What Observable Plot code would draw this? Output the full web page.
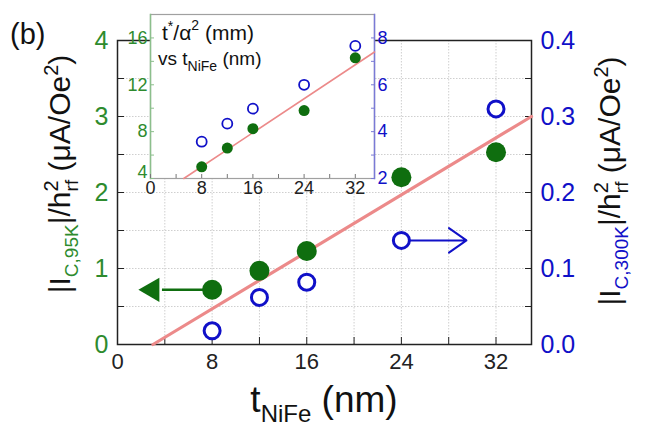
<!DOCTYPE html>
<html><head><meta charset="utf-8">
<script src="https://cdn.jsdelivr.net/npm/d3@7"></script>
<script src="https://cdn.jsdelivr.net/npm/@observablehq/plot@0.6"></script>
<style>
html,body{margin:0;padding:0;background:#fff;}
#wrap{position:relative;width:646px;height:439px;overflow:hidden;font-family:"Liberation Sans",Arial,sans-serif;}
#inset{position:absolute;left:110px;top:0px;}
</style></head>
<body><div id="wrap"><div id="main"></div><div id="inset"></div></div>
<script>
// ---- data ----
const thickness = [8, 12, 16, 24, 32];            // t_NiFe (nm)
const ic95 = [0.72, 0.97, 1.23, 2.2, 2.53];       // left axis (green)
const ic300 = [0.018, 0.062, 0.082, 0.137, 0.31]; // right axis (blue)
const fitX = [3.0, 35];
const fitY = [0, 3.0];
const xMajor = [0, 8, 16, 24, 32];
const xMinor = [4, 12, 20, 28];
const yLeftTicks = [0, 1, 2, 3, 4];
const yRightTicks = [0, 0.1, 0.2, 0.3, 0.4];
const yMinor = [0.5, 1.5, 2.5, 3.5];
const xGrid = [4, 8, 12, 16, 20, 24, 28, 32];
const yGrid = [0.5, 1, 1.5, 2, 2.5, 3, 3.5];
// arrows annotate series (start at a data point)
const arrowGreen = {from: 0, toX: 2.2};
const arrowBlue = {from: 3, toX: 29.5};

// inset data
const insetT = [8, 12, 16, 24, 32];
const insetGreen = [5.0, 6.6, 8.25, 9.8, 14.3];   // left axis t*/α² (mm)
const insetBlue = [3.57, 4.34, 4.98, 6.0, 7.66];  // right axis
const insetFitX = [5.2, 35];
const insetFitY = [4, 14.8];
const insetXTicks = [0, 8, 16, 24, 32];
const insetXMinor = [4, 12, 20, 28];
const insetLeftTicks = [8, 12, 16];
const insetLeftBottom = [4];
const insetLeftMinor = [6, 10, 14];
const insetRightTicks = [2, 4, 6, 8];
const insetRightMinor = [3, 5, 7];

const GREEN = "#0f6e0f", GTXT = "#2e8b2e", BLUE = "#1010c8", RED = "#ec8a8a";
const FONT = "Liberation Sans, Arial, sans-serif";

const leftMax = 4, rightMax = 0.4, k = leftMax / rightMax;
const rows = thickness.map((t, i) => ({t, g: ic95[i], b: ic300[i] * k}));
const fit = fitX.map((x, i) => ({x, y: fitY[i]}));

const main = Plot.plot({
  width: 646, height: 439,
  marginLeft: 117, marginRight: 115, marginTop: 40, marginBottom: 95,
  style: {fontFamily: FONT, background: "transparent"},
  x: {domain: [0, 35]},
  y: {domain: [0, leftMax]},
  marks: [
    Plot.gridX(xGrid, {stroke: "#cfcfcf", strokeOpacity: 1, strokeDasharray: "1.5,1.5"}),
    Plot.gridY(yGrid, {stroke: "#cfcfcf", strokeOpacity: 1, strokeDasharray: "1.5,1.5"}),
    Plot.frame({stroke: "#222", strokeWidth: 1.5}),
    Plot.axisX(xMajor, {tickSize: 0, tickPadding: 9, fontSize: 22, color: "#222", label: null}),
    Plot.axisX(xMajor.concat(xMinor), {tickSize: -7, tickFormat: () => "", stroke: "#222", label: null}),
    Plot.axisY(yLeftTicks, {anchor: "left", tickSize: 0, tickPadding: 9, fontSize: 25, color: GTXT, tickFormat: d => String(d), label: null}),
    Plot.axisY(yLeftTicks.concat(yMinor), {anchor: "left", tickSize: -7, tickFormat: () => "", stroke: "#222", label: null}),
    Plot.axisY(yRightTicks.map(v => v * k), {anchor: "right", tickSize: 0, tickPadding: 9, fontSize: 25, color: BLUE, tickFormat: d => (d / k).toFixed(1), label: null}),
    Plot.axisY(yLeftTicks.concat(yMinor), {anchor: "right", tickSize: -7, tickFormat: () => "", stroke: "#222", label: null}),
    Plot.line(fit, {x: "x", y: "y", stroke: RED, strokeWidth: 3.2}),
    Plot.ruleY([rows[arrowGreen.from]], {y: "g", x1: d => arrowGreen.toX + 1.6, x2: "t", stroke: GREEN, strokeWidth: 2.5}),
    Plot.dot([rows[arrowGreen.from]], {x: () => arrowGreen.toX + 0.75, y: "g", symbol: "triangle", r: 9, fill: GREEN, rotate: -90}),
    Plot.arrow([rows[arrowBlue.from]], {x1: "t", x2: () => arrowBlue.toX, y: "b", stroke: BLUE, strokeWidth: 2, headLength: 16, headAngle: 70}),
    Plot.dot(rows, {x: "t", y: "g", r: 10, fill: GREEN}),
    Plot.dot(rows, {x: "t", y: "b", r: 8, stroke: BLUE, strokeWidth: 3, fill: "white"})
  ]
});
document.getElementById("main").appendChild(main);

// titles
const svg = d3.select(main);
function addText(parent, x, y, rot, size, parts, anchor = "middle") {
  const t = parent.append("text").attr("transform", `translate(${x},${y}) rotate(${rot})`)
    .attr("text-anchor", anchor).attr("font-size", size).attr("font-family", FONT).attr("fill", "#111");
  parts.forEach(p => {
    const s = t.append("tspan").text(p.t);
    if (p.dy) s.attr("dy", p.dy);
    if (p.dx) s.attr("dx", p.dx);
    if (p.fs) s.attr("font-size", p.fs);
    if (p.fill) s.attr("fill", p.fill);
  });
  return t;
}
addText(svg, 10, 44, 0, 29, [{t: "(b)"}], "start");
addText(svg, 324, 412, 0, 37, [
  {t: "t"}, {t: "NiFe", fs: 24, dy: 10}, {t: " (nm)", dy: -10}
]);
function yTitle(x, y, sub, subColor) {
  return addText(svg, x, y, -90, 30, [
    {t: "|I"}, {t: sub, fs: 19, dy: 8, fill: subColor}, {t: "|/h", dy: -8},
    {t: "2", fs: 20, dy: -12}, {t: "rf", fs: 19, dy: 20, dx: -11}, {t: " (μA/Oe", dy: -8},
    {t: "2", fs: 20, dy: -12}, {t: ")", dy: 12}
  ]);
}
yTitle(70, 174, "C,95K", GTXT);
yTitle(620, 181, "C,300K", BLUE);

// ---- inset ----
const irows = insetT.map((t, i) => ({t, g: insetGreen[i], b: insetBlue[i] * 2}));
const ifit = insetFitX.map((x, i) => ({x, y: insetFitY[i]}));
const inset = Plot.plot({
  width: 290, height: 200,
  marginLeft: 40, marginRight: 26, marginTop: 14, marginBottom: 22,
  style: {fontFamily: FONT, background: "transparent", overflow: "visible"},
  x: {domain: [0, 35]},
  y: {domain: [4, 18]},
  marks: [
    Plot.frame({fill: "white", stroke: "#a0a0a0", strokeWidth: 1.2}),
    Plot.frame({anchor: "left", stroke: "#8cbf8c", strokeWidth: 1.5}),
    Plot.frame({anchor: "right", stroke: "#7a7ad6", strokeWidth: 1.5}),
    Plot.axisX(insetXTicks, {tickSize: 0, tickPadding: 3, fontSize: 18, color: "#222", label: null}),
    Plot.axisX(insetXTicks.concat(insetXMinor), {tickSize: -4, tickFormat: () => "", stroke: "#777", label: null}),
    Plot.axisY(insetLeftTicks, {anchor: "left", tickSize: 0, tickPadding: 3, fontSize: 18, color: GTXT, label: null}),
    Plot.axisY(insetLeftBottom, {anchor: "left", tickSize: 0, tickPadding: 3, fontSize: 18, color: GTXT, dy: -6, label: null}),
    Plot.axisY(insetLeftTicks.concat(insetLeftBottom, insetLeftMinor), {anchor: "left", tickSize: -4, tickFormat: () => "", stroke: "#8cbf8c", label: null}),
    Plot.axisY(insetRightTicks.map(v => v * 2), {anchor: "right", tickSize: 0, tickPadding: 3, fontSize: 18, color: BLUE, tickFormat: d => d / 2, label: null}),
    Plot.axisY(insetRightTicks.concat(insetRightMinor).map(v => v * 2), {anchor: "right", tickSize: -4, tickFormat: () => "", stroke: "#7a7ad6", label: null}),
    Plot.line(ifit, {x: "x", y: "y", stroke: RED, strokeWidth: 1.6}),
    Plot.dot(irows, {x: "t", y: "g", r: 5.5, fill: GREEN}),
    Plot.dot(irows, {x: "t", y: "b", r: 5, stroke: BLUE, strokeWidth: 1.8, fill: "none"})
  ]
});
document.getElementById("inset").appendChild(inset);
const isvg = d3.select(inset);
addText(isvg, 52, 40, 0, 21, [
  {t: "t"}, {t: "*", fs: 14, dy: -9}, {t: "/α", dy: 9}, {t: "2", fs: 14, dy: -10}, {t: " (mm)", dy: 10}
], "start");
addText(isvg, 48, 65, 0, 19, [
  {t: "vs t"}, {t: "NiFe", fs: 14, dy: 6}, {t: " (nm)", dy: -6}
], "start");
</script>
</body></html>
